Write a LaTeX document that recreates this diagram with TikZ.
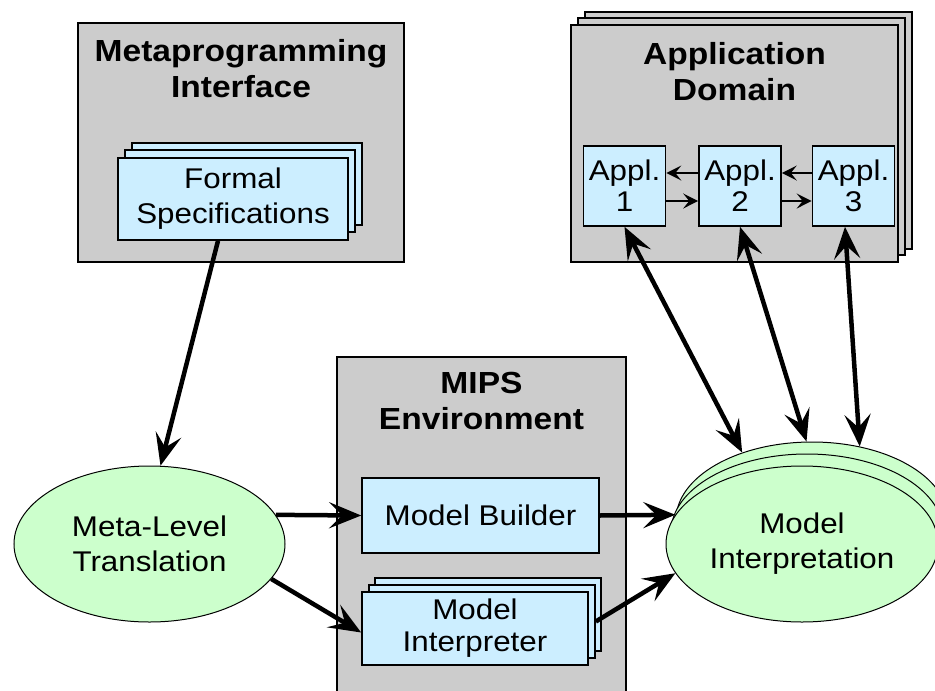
\documentclass[tikz,border=0pt]{standalone}
\usepackage{fontspec}
\setmainfont[FakeStretch=1.1]{Liberation Sans}
\usetikzlibrary{arrows.meta,shapes.geometric}
\definecolor{boxgray}{RGB}{204,204,204}
\definecolor{boxblue}{RGB}{204,238,255}
\definecolor{ellgreen}{RGB}{204,255,204}
\begin{document}
\begin{tikzpicture}[x=1pt,y=-1pt,
  frame/.style={draw=black, line width=1.6pt, fill=boxgray, rectangle, inner sep=0pt},
  bluebox/.style={draw=black, line width=1.6pt, fill=boxblue, rectangle, inner sep=0pt,
    align=center, font=\fontsize{28.5}{35}\selectfont},
  ellnode/.style={draw=black, line width=1pt, fill=ellgreen, ellipse, inner sep=0pt,
    minimum width=272pt, minimum height=156pt, align=center, font=\fontsize{28.5}{35}\selectfont},
  title/.style={font=\bfseries\fontsize{30.5}{36}\selectfont, align=center, inner sep=0pt},
  bigarrow/.style={line width=4.5pt, -{Stealth[length=32pt,width=26pt,inset=13pt]}},
  dblarrow/.style={line width=4.5pt, {Stealth[length=32pt,width=26pt,inset=13pt]}-{Stealth[length=32pt,width=26pt,inset=13pt]}},
  smallarrow/.style={line width=1.6pt, -{Stealth[length=15pt,width=15pt,inset=6pt]}}
]
\useasboundingbox (0,0) rectangle (935,691);
\clip (0,0) rectangle (935,691);

% Metaprogramming Interface
\node[frame, minimum width=326pt, minimum height=239pt] (mp) at (241,142.5) {};
\node[title] (mpt) at (241,69) {Metaprogramming\\Interface};
\node[bluebox, minimum width=230pt, minimum height=82pt] (fs3) at (247,184) {};
\node[bluebox, minimum width=230pt, minimum height=82pt] (fs2) at (240,191) {};
\node[bluebox, minimum width=230pt, minimum height=82pt] (fs) at (233,199) {Formal\\Specifications};

% Application Domain
\node[frame, minimum width=327pt, minimum height=237pt] (ad3) at (748.5,130.5) {};
\node[frame, minimum width=327pt, minimum height=237pt] (ad2) at (741.5,136.5) {};
\node[frame, minimum width=327pt, minimum height=237pt] (ad) at (734.5,143.5) {};
\node[title] (adt) at (734.5,72) {Application\\Domain};
\node[bluebox, minimum width=82pt, minimum height=80pt, font=\fontsize{28.5}{31}\selectfont] (a1) at (624.5,186) {Appl.\\1};
\node[bluebox, minimum width=82pt, minimum height=80pt, font=\fontsize{28.5}{31}\selectfont] (a2) at (740,186) {Appl.\\2};
\node[bluebox, minimum width=82pt, minimum height=80pt, font=\fontsize{28.5}{31}\selectfont] (a3) at (853.5,186) {Appl.\\3};

% MIPS Environment
\node[frame, minimum width=289pt, minimum height=343pt] (mips) at (481.5,528.5) {};
\node[title] (mipst) at (481.5,401) {MIPS\\Environment};
\node[bluebox, minimum width=237pt, minimum height=75pt] (mb) at (480.5,515.5) {Model Builder};
\node[bluebox, minimum width=226pt, minimum height=73pt] (mi3b) at (488,614.5) {};
\node[bluebox, minimum width=226pt, minimum height=73pt] (mi2b) at (482,621.5) {};
\node[bluebox, minimum width=226pt, minimum height=73pt, font=\fontsize{28.5}{32}\selectfont] (mi) at (475,628.5) {Model\\Interpreter};

% Ellipses
\node[ellnode, minimum width=271pt] (ml) at (149.5,544) {Meta-Level\\Translation};
\node[ellnode] (mie3) at (812,520) {};
\node[ellnode] (mie2) at (807,532) {};
\node[ellnode] (mie) at (802,544) {Model\\Interpretation};

% Connectors
\draw[bigarrow] ([xshift=-15pt]fs.south) -- (ml.82);
\draw[bigarrow] (ml.13) -- (mb.west);
\draw[bigarrow] (ml.-16) -- ([yshift=-4pt]mi.west);
\draw[bigarrow] (mb.east) -- (mie.167);
\draw[bigarrow] (mi2b.east) -- (mie.193);

\draw[dblarrow] (a1.south) -- (mie3.136);
\draw[dblarrow] (a2.south) -- (mie3.94);
\draw[dblarrow] ([xshift=-8.5pt]a3.south) -- (mie3.57);

\draw[smallarrow] ([yshift=13pt]a2.west) -- ([yshift=13pt]a1.east);
\draw[smallarrow] ([yshift=-15pt]a1.east) -- ([yshift=-15pt]a2.west);
\draw[smallarrow] ([yshift=13pt]a3.west) -- ([yshift=13pt]a2.east);
\draw[smallarrow] ([yshift=-15pt]a2.east) -- ([yshift=-15pt]a3.west);
\end{tikzpicture}
\end{document}
